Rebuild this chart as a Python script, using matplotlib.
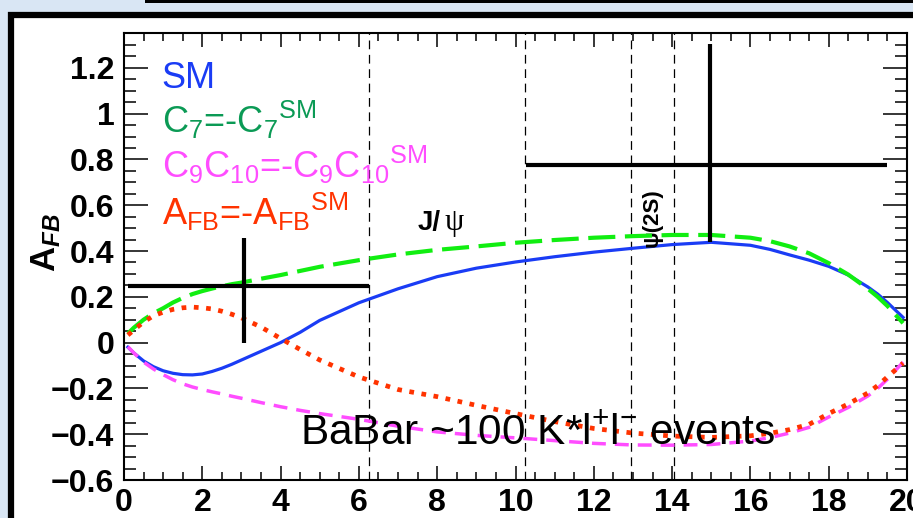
import matplotlib
matplotlib.use("Agg")
import matplotlib.pyplot as plt
from matplotlib.patches import Rectangle
from matplotlib.ticker import MultipleLocator, FuncFormatter

plt.rcParams['font.family'] = 'Liberation Sans'
plt.rcParams['mathtext.fontset'] = 'custom'
plt.rcParams['mathtext.rm'] = 'Liberation Sans'
plt.rcParams['mathtext.it'] = 'Liberation Sans:italic'
plt.rcParams['mathtext.bf'] = 'Liberation Sans:bold'
plt.rcParams['mathtext.bfit'] = 'Liberation Sans:bold:italic'

# q^2 points (GeV^2)
q2 = [0.1, 0.25, 0.5, 0.75, 1.0, 1.25, 1.5, 1.75, 2.0, 2.25, 2.5, 2.75, 3.0,
      3.5, 4.0, 4.5, 5.0, 6.0, 7.0, 8.0, 9.0, 10.0, 11.0, 12.0, 13.0, 14.0,
      15.0, 16.0, 16.5, 17.0, 17.5, 18.0, 18.5, 19.0, 19.25, 19.5, 19.9]
afb_sm = [-0.02, -0.045, -0.08, -0.105, -0.123, -0.134, -0.14, -0.141, -0.137,
          -0.126, -0.112, -0.095, -0.076, -0.038, 0.0, 0.045, 0.097, 0.174,
          0.235, 0.288, 0.325, 0.352, 0.375, 0.395, 0.412, 0.428, 0.438,
          0.425, 0.407, 0.383, 0.36, 0.333, 0.295, 0.243, 0.212, 0.175, 0.11]
afb_c7 = [0.04, 0.065, 0.1, 0.128, 0.15, 0.175, 0.195, 0.212, 0.225, 0.236,
          0.246, 0.255, 0.262, 0.279, 0.295, 0.313, 0.331, 0.36, 0.385, 0.405,
          0.42, 0.436, 0.448, 0.458, 0.465, 0.47, 0.47, 0.458, 0.443, 0.42,
          0.39, 0.347, 0.297, 0.235, 0.2, 0.16, 0.085]
afb_c9c10 = [-0.018, -0.045, -0.085, -0.115, -0.14, -0.162, -0.18, -0.194,
             -0.205, -0.215, -0.224, -0.234, -0.243, -0.262, -0.28, -0.296,
             -0.31, -0.335, -0.365, -0.39, -0.405, -0.416, -0.428, -0.44,
             -0.447, -0.448, -0.445, -0.43, -0.415, -0.395, -0.37, -0.325,
             -0.283, -0.233, -0.2, -0.16, -0.085]
afb_flip = [0.033, 0.055, 0.09, 0.117, 0.133, 0.145, 0.152, 0.155, 0.152,
            0.147, 0.137, 0.124, 0.108, 0.068, 0.018, -0.03, -0.076, -0.15,
            -0.205, -0.236, -0.274, -0.31, -0.345, -0.375, -0.395, -0.408,
            -0.414, -0.407, -0.396, -0.38, -0.357, -0.31, -0.268, -0.22,
            -0.188, -0.15, -0.09]

# BaBar measurement (two q^2 bins)
data_x = [3.07, 14.97]
data_y = [0.248, 0.775]
data_xlo = [2.97, 4.70]
data_xhi = [3.18, 4.52]
data_ylo = [0.248, 0.335]
data_yhi = [0.21, 0.53]

# charmonium veto boundaries
veto_lines = [6.25, 10.24, 12.96, 14.06]

BLUE = '#1a3cf5'
GREEN = '#11ee11'
MAGENTA = '#ff4dff'
RED = '#ff3300'

fig = plt.figure(figsize=(9.13, 5.18), dpi=100, facecolor='#d9e6f4')
# slide frame (kept behind the axes)
fig.add_artist(Rectangle((11 / 913, -0.2), 2.0, 1.2 - 14.5 / 518,
                         transform=fig.transFigure, facecolor='white',
                         edgecolor='black', linewidth=4.5, zorder=-10))
fig.add_artist(Rectangle((145 / 913, 1 - 2.5 / 518), 1.0, 0.1,
                         transform=fig.transFigure, facecolor='black',
                         edgecolor='none', zorder=-10))

ax = fig.add_axes([124 / 913, 38 / 518, 783 / 913, 447 / 518])
ax.set_facecolor('white')
ax.set_xlim(0, 20)
ax.set_ylim(-0.6, 1.352)

for xv in veto_lines:
    ax.axvline(xv, color='black', lw=0.9, dashes=(7, 4.5))

ax.plot(q2, afb_sm, color=BLUE, lw=2.3, zorder=3, solid_joinstyle='round')
ax.plot(q2, afb_c7, color=GREEN, lw=3.0, dashes=(6.5, 2.3), zorder=4)
ax.plot(q2, afb_c9c10, color=MAGENTA, lw=2.5, dashes=(4, 2.6), zorder=3)
ax.plot(q2, afb_flip, color=RED, lw=3.4, dashes=(1.0, 1.6), zorder=4)

ax.errorbar(data_x, data_y, xerr=[data_xlo, data_xhi], yerr=[data_ylo, data_yhi],
            fmt='none', ecolor='black', elinewidth=3.0, capsize=0, zorder=6)

# legend written as coloured text
leg_x = 0.96
ax.text(leg_x, 1.111, 'SM', color=BLUE, fontsize=26, va='baseline')
ax.text(leg_x, 0.917, r'C$_{7}$=-C$_{7}$$^{\mathrm{SM}}$', color='#0b9a55',
        fontsize=26, va='baseline')
ax.text(leg_x, 0.717, r'C$_{9}$C$_{10}$=-C$_{9}$C$_{10}$$^{\mathrm{SM}}$',
        color=MAGENTA, fontsize=26, va='baseline')
ax.text(leg_x, 0.514, r'A$_{\mathrm{FB}}$=-A$_{\mathrm{FB}}$$^{\mathrm{SM}}$',
        color=RED, fontsize=26, va='baseline')

ax.text(7.51, 0.49, 'J/', fontsize=20, fontweight='bold', va='baseline')
ax.text(8.2, 0.49, '\u03c8', fontsize=22, family='Liberation Serif', va='baseline')
ax.text(13.5, 0.545, '\u03c8(2S)', fontsize=16, fontweight='bold',
        rotation=90, ha='center', va='center')
ax.text(4.5, -0.447, r'BaBar ~100 K*l$^{+}$l$^{-}$ events', fontsize=30.5,
        va='baseline', zorder=7)

fig.text(46 / 913, 1 - 243 / 518, r'$\mathbf{A}_{\mathbfit{FB}}$', rotation=90,
         fontsize=25, ha='center', va='center')

# ROOT-like frame ticks
ax.xaxis.set_major_locator(MultipleLocator(2))
ax.xaxis.set_minor_locator(MultipleLocator(0.5))
ax.yaxis.set_major_locator(MultipleLocator(0.2))
ax.yaxis.set_minor_locator(MultipleLocator(0.05))
ax.yaxis.set_major_formatter(FuncFormatter(lambda v, p: ('%g' % round(v, 2)).replace('-', '\u2212')))
ax.tick_params(which='both', direction='in', top=True, right=True, width=1.1)
ax.tick_params(axis='x', which='major', length=10, pad=6, labelsize=23)
ax.tick_params(axis='x', which='minor', length=5.5)
ax.tick_params(axis='y', which='major', length=17, pad=7, labelsize=23)
ax.tick_params(axis='y', which='minor', length=8.5)
for lab in ax.get_xticklabels() + ax.get_yticklabels():
    lab.set_fontweight('bold')
for sp in ax.spines.values():
    sp.set_linewidth(1.5)

fig.savefig('out.png', dpi=100, facecolor=fig.get_facecolor())
